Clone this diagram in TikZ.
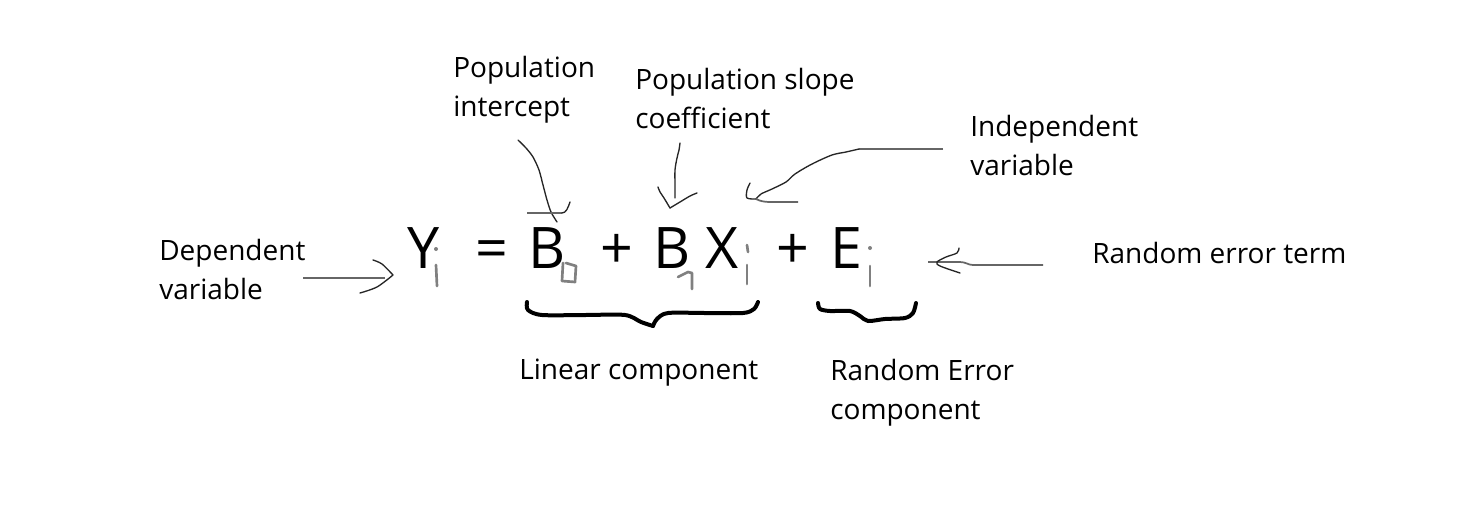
\documentclass[tikz,border=0pt]{standalone}
\usepackage{fontspec}
\setmainfont{Open Sans}
\begin{document}
\begin{tikzpicture}[x=0.75pt,y=-0.75pt,
  lbl/.style={font=\fontsize{21pt}{29.25pt}\selectfont, anchor=base west, inner sep=0pt, align=left},
  big/.style={font=\fontsize{43pt}{50pt}\selectfont, anchor=base, inner sep=0pt},
  pen/.style={black!85, line width=1pt, line cap=round, line join=round},
  shaft/.style={black!60, line width=1.3pt},
  subpen/.style={black!50, line width=2pt, line cap=round, line join=round},
  brace/.style={black, line width=3pt, line cap=round, line join=round}]
\useasboundingbox (0,0) rectangle (1465,522);
\fill[white] (0,0) rectangle (1465,522);

% labels (two-line nodes are placed by the baseline of their last line)
\node[lbl] (dep) at (159,299) {Dependent\\variable};
\node[lbl] (pi)  at (453,116) {Population\\intercept};
\node[lbl] (ps)  at (635,128) {Population slope\\coefficient};
\node[lbl] (iv)  at (970,175) {Independent\\variable};
\node[lbl] (ret) at (1092,263) {Random error term};
\node[lbl] (lc)  at (519,379) {Linear component};
\node[lbl] (rec) at (830,419) {Random Error\\component};

% equation
\node[big] (Y)  at (424,268) {Y};
\node[big] (eq) at (492,268) {=};
\node[big] (B0) at (547,268) {B};
\node[big] (p1) at (617,268) {+};
\node[big] (B1) at (672,268) {B};
\node[big] (X)  at (722,268) {X};
\node[big] (p2) at (793,268) {+};
\node[big] (E)  at (846,268) {E};

% handwritten subscripts
\fill[black!50] (436,249) circle (2);
\draw[subpen] (436,265) -- (437,286);
\draw[subpen] (563,263) -- (562,281) -- (575,282) -- (576,266) -- (566,263);
\draw[subpen] (678,277) -- (688,272) -- (692,273) -- (692,289);
\draw[subpen] (747,245) -- (748,252);
\draw[subpen] (747,265) -- (747,284);
\fill[black!50] (870,248) circle (2);
\draw[subpen] (870,266) -- (870,286);

% braces
\draw[brace] plot[smooth, tension=0.5] coordinates {(527,302) (528,310) (542,315) (585,315) (625,315) (641,322) (653,326)};
\draw[brace] plot[smooth, tension=0.5] coordinates {(653,326) (657,319) (668,313) (705,313) (743,313) (754,309) (758,302)};
\draw[brace] plot[smooth, tension=0.5] coordinates {(818,303) (820,309) (830,311) (850,311) (860,316) (868,321) (885,319) (905,318) (913,313) (916,303)};

% dependent variable arrow
\draw[shaft] (303,278) -- (385,278);
\draw[pen] plot[smooth] coordinates {(373,260) (382,264) (393,275)};
\draw[pen] plot[smooth] coordinates {(393,275) (377,287) (360,293)};

% random error term arrow
\draw[shaft] (1043,265) -- (973,265) .. controls (968,265) and (966,262) .. (960,262) -- (928,262);
\draw[pen] plot[smooth] coordinates {(959,248) (957,253) (946,257) (937,262) (940,266) (960,273)};

% intercept arrow
\draw[pen] plot[smooth] coordinates {(518,140) (526,148) (533,157) (539,170) (543,185) (547,200) (551,212) (557,222)};
\draw[shaft] (527,213) -- (562,213);
\draw[pen] (562,213) .. controls (566,213) and (568,208) .. (570,202);

% slope arrow
\draw[pen] plot[smooth] coordinates {(680,143) (679,150) (677,158) (675,170) (675,185) (675,198)};
\draw[pen] plot[smooth] coordinates {(658,187) (660,192) (664,198) (670,208)};
\draw[pen] plot[smooth] coordinates {(670,208) (680,202) (690,196) (697,193)};

% independent variable arrow
\draw[shaft] (943,149) -- (859,149);
\draw[pen] plot[smooth] coordinates {(859,149) (846,152) (832,155) (812,164) (795,174) (786,182) (772,189) (761,194) (756,199)};
\draw[pen] plot[smooth] coordinates {(750,183) (747,190) (747,198) (756,199)};
\draw[shaft] (756,199) .. controls (760,201) and (764,202) .. (770,202) -- (798,202);
\end{tikzpicture}
\end{document}
